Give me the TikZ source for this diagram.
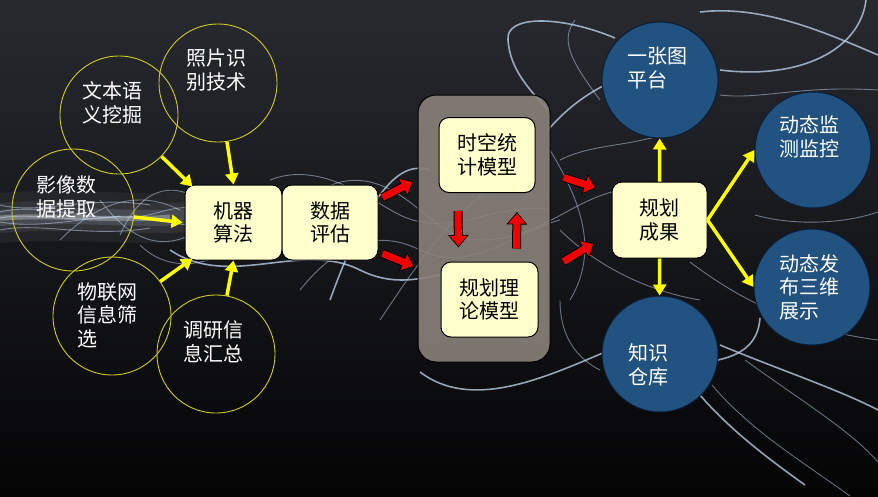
\documentclass[tikz,border=0pt]{standalone}
\usepackage{fontspec}
\newfontfamily\cjk{Noto Sans CJK SC}
\usetikzlibrary{arrows.meta,calc}
\definecolor{boxfill}{RGB}{255,255,204}
\definecolor{ycirc}{RGB}{205,205,35}
\definecolor{yarrow}{RGB}{255,255,0}
\definecolor{bluefill}{RGB}{33,82,128}
\definecolor{blueedge}{RGB}{12,30,55}
\definecolor{grayfill}{RGB}{138,130,122}
\definecolor{streak}{RGB}{195,215,240}
\definecolor{bgtop}{RGB}{40,42,48}
\definecolor{bgbot}{RGB}{4,4,5}
\definecolor{arrred}{RGB}{240,0,0}
\begin{document}
\begin{tikzpicture}[x=1pt,y=-1pt,
  every node/.style={font=\cjk\fontsize{20}{23.5}\selectfont},
  ybox/.style={draw=black, line width=1pt, fill=boxfill, rounded corners=10pt,
    minimum width=96pt, minimum height=75pt, align=center, text=black, inner sep=0pt},
  bigbox/.style={draw=black, line width=1pt, fill=grayfill, fill opacity=0.9, rounded corners=18pt,
    minimum width=132pt, minimum height=267pt, inner sep=0pt},
  ycircle/.style={circle, draw=ycirc, line width=0.9pt, minimum size=118pt, inner sep=0pt},
  bcircle/.style={circle, draw=blueedge, line width=1pt, fill=bluefill, minimum size=116pt, inner sep=0pt},
  wtext/.style={text=white, align=left, inner sep=0pt},
  yarr/.style={draw=yarrow, line width=3.5pt, -{Triangle[length=11pt,width=13pt]}},
  rarr/.style={draw=arrred, line width=7pt, shorten >=1.6pt, -{Triangle[length=10pt,width=17pt]},
    preaction={draw=black, line width=9pt, shorten >=0pt, -{Triangle[length=12.5pt,width=20pt]}}},
  strk/.style={draw=streak, line width=0.9pt, opacity=0.5},
  strkb/.style={draw=streak, line width=1.6pt, opacity=0.75}
]
% background
\useasboundingbox (0,0) rectangle (878,496);
\shade[top color=bgtop, bottom color=bgbot] (0,0) rectangle (878,496);

% glow of the left beam
\draw[white, opacity=0.05, line width=50pt, line cap=round] (0,218) .. controls (80,212) and (140,222) .. (180,216);
\draw[white, opacity=0.07, line width=30pt, line cap=round] (0,218) .. controls (80,212) and (140,222) .. (200,216);
\draw[streak, opacity=0.14, line width=16pt, line cap=round] (0,218) .. controls (80,212) and (140,222) .. (190,216);
\draw[white, opacity=0.3, line width=5pt] (0,218) .. controls (60,214) and (110,222) .. (170,217);

% streaks, left beam
\draw[strk] (0,212) .. controls (50,200) and (100,230) .. (160,212) .. controls (200,200) and (230,215) .. (260,205);
\draw[strk] (0,222) .. controls (60,232) and (110,205) .. (170,222) .. controls (210,232) and (240,215) .. (280,225);
\draw[strk] (0,205) .. controls (40,215) and (90,195) .. (150,205);
\draw[strk] (0,230) .. controls (40,222) and (90,238) .. (150,228);
\draw[strk] (0,218) .. controls (30,212) and (80,224) .. (120,216);
\draw[strk] (60,240) .. controls (100,200) and (140,190) .. (180,210);
\draw[strk] (100,200) .. controls (130,240) and (160,250) .. (190,235);
\draw[strk] (120,235) .. controls (140,190) and (170,180) .. (200,200);
\draw[strk] (140,245) .. controls (160,265) and (190,270) .. (220,255);

% streaks, middle
\draw[strkb] (170,250) .. controls (230,290) and (300,240) .. (360,270) .. controls (420,300) and (460,250) .. (520,280);
\draw[strk] (260,260) .. controls (300,190) and (340,170) .. (380,185) .. controls (420,200) and (440,240) .. (480,240) .. controls (540,240) and (570,200) .. (620,190);
\draw[strk] (300,290) .. controls (340,240) and (380,230) .. (420,250) .. controls (470,275) and (520,230) .. (560,220);
\draw[strkb] (330,300) .. controls (370,190) and (400,160) .. (430,170);
\draw[strk] (270,180) .. controls (320,160) and (370,200) .. (400,215) .. controls (450,240) and (500,200) .. (550,210);
\draw[strk] (380,320) .. controls (420,260) and (460,200) .. (520,170);
\draw[strk] (550,150) .. controls (580,200) and (600,250) .. (570,300);
\draw[strk] (560,230) .. controls (590,260) and (640,290) .. (700,300);

% streaks, top
\draw[strkb] (615,38) .. controls (560,15) and (505,15) .. (508,40) .. controls (510,70) and (530,90) .. (548,110);
\draw[strkb] (548,130) .. controls (565,110) and (585,95) .. (605,85);
\draw[strkb] (700,12) .. controls (760,5) and (820,30) .. (878,55);
\draw[strkb] (720,70) .. controls (800,80) and (860,50) .. (866,0);
\draw[strk] (600,100) .. controls (570,60) and (560,40) .. (575,20);
\draw[strk] (720,95) .. controls (760,100) and (800,85) .. (878,90);
\draw[strk] (560,160) .. controls (600,140) and (640,150) .. (700,120);

% streaks, right and bottom
\draw[strkb] (420,372) .. controls (470,410) and (540,380) .. (605,352);
\draw[strkb] (718,360) .. controls (740,355) and (758,345) .. (760,318);
\draw[strkb] (720,345) .. controls (780,370) and (840,390) .. (878,410);
\draw[strk] (745,360) .. controls (800,400) and (850,430) .. (878,462);
\draw[strkb] (700,395) .. controls (730,430) and (770,460) .. (805,485);
\draw[strk] (712,385) .. controls (750,430) and (800,460) .. (850,496);
\draw[strk] (690,262) .. controls (740,300) and (800,330) .. (878,340);
\draw[strk] (755,215) .. controls (790,225) and (840,225) .. (878,212);
\draw[strk] (560,300) .. controls (560,340) and (580,360) .. (600,370);

% ---- yellow input circles
\node[ycircle] (zp) at (218,83) {};
\node[ycircle] (wb) at (119,115) {};
\node[ycircle, minimum size=122pt] (yx) at (73,210) {};
\node[ycircle] (wl) at (112,316) {};
\node[ycircle] (dy) at (216,354) {};
\node[wtext] (zpt) at (216,70) {照片识\\别技术};
\node[wtext] (wbt) at (112,103) {文本语\\义挖掘};
\node[wtext] (yxt) at (66,197) {影像数\\据提取};
\node[wtext] (wlt) at (107,315) {物联网\\信息筛\\选};
\node[wtext] (dyt) at (213,342) {调研信\\息汇总};

% ---- boxes
\node[ybox, minimum width=97pt] (jq) at (233.5,222.5) {机器\\算法};
\node[ybox] (pg) at (330,222.5) {数据\\评估};
\node[bigbox] (big) at (484,228.5) {};
\node[ybox] (sk) at (487,155) {时空统\\计模型};
\node[ybox, minimum width=97pt] (gl) at (489.5,299.5) {规划理\\论模型};
\node[ybox, minimum width=95pt, minimum height=76pt] (cg) at (659.5,220) {规划\\成果};

% ---- blue output circles
\node[bcircle] (yz) at (660,80) {};
\node[bcircle] (dm) at (813,150) {};
\node[bcircle] (df) at (812,287) {};
\node[bcircle] (zs) at (660,354) {};
\node[wtext] (yzt) at (657,68) {一张图\\平台};
\node[wtext] (dmt) at (809,137) {动态监\\测监控};
\node[wtext] (dft) at (809,287) {动态发\\布三维\\展示};
\node[wtext] (zst) at (648,365) {知识\\仓库};

% ---- yellow arrows
\draw[yarr] (zp) -- (jq.north);
\draw[yarr] (wb) -- ($(jq.north west)+(8,2)$);
\draw[yarr] (yx) -- ($(jq.west)+(-2,0)$);
\draw[yarr] (wl) -- ($(jq.south west)+(8,-2)$);
\draw[yarr] (dy) -- (jq.south);
\draw[yarr] (cg.north) -- (yz);
\draw[yarr] (cg.south) -- (zs);
\draw[yarr] (cg.east) -- (dm.west);
\draw[yarr] (cg.east) -- (df.west);

% ---- red arrows
\draw[rarr] ($(pg.east)+(4,-25)$) -- ($(big.west)+(-4,-47)$);
\draw[rarr] ($(pg.east)+(4,31)$) -- ($(big.west)+(-3,38)$);
\draw[rarr] ($(sk.south)+(-29,18)$) -- ($(gl.north)+(-31,-14)$);
\draw[rarr] ($(gl.north)+(27,-13)$) -- ($(sk.south)+(30,19)$);
\draw[rarr] ($(big.east)+(13,-51)$) -- ($(cg.west)+(-15,-32)$);
\draw[rarr] ($(big.east)+(13,33)$) -- ($(cg.west)+(-17,23)$);
\end{tikzpicture}
\end{document}
